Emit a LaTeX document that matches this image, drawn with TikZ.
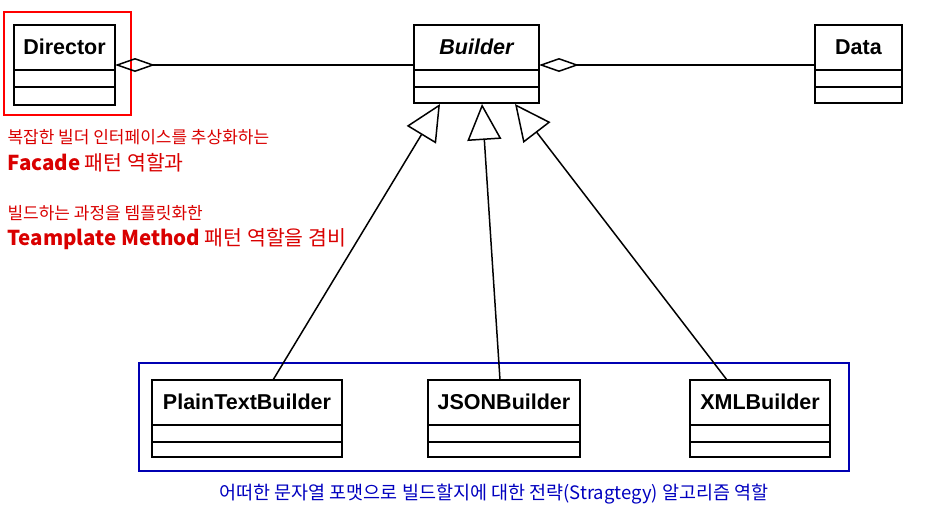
\documentclass[tikz,border=0pt]{standalone}
\usepackage{fontspec}
\setmainfont{Liberation Sans}
\newfontfamily\kr{Noto Sans CJK KR}
\usetikzlibrary{arrows.meta}
\begin{document}
\begin{tikzpicture}[x=1pt,y=-1pt,
  cls/.style={draw,line width=1.5pt,fill=white},
  nm/.style={font=\bfseries\fontsize{21.5}{24}\selectfont},
  agg/.style={line width=1.5pt,-{Diamond[open,length=40pt,width=14pt]}},
  inh/.style={line width=1.5pt,-{Triangle[open,length=36pt,width=34pt]}},
  rt/.style={anchor=west,text=red!85!black,font=\kr\fontsize{17}{19}\selectfont},
  rb/.style={anchor=west,text=red!85!black,font=\kr\fontsize{20.5}{23}\selectfont},
  sep/.style={line width=1.5pt}]
\useasboundingbox (0,0) rectangle (925,520);
\newcommand\umlbox[6]{% name x1 x2 y1 y2 label
  \draw[cls] (#2,#4) rectangle (#3,#5);
  \draw[sep] (#2,#4+45) -- (#3,#4+45);
  \draw[sep] (#2,#4+62) -- (#3,#4+62);
  \node[nm] (#1) at ({(#2+#3)/2},#4+22) {#6};
  \coordinate (#1-w) at (#2,#4+40);
  \coordinate (#1-e) at (#3,#4+40);
  \coordinate (#1-n) at ({(#2+#3)/2},#4);}
\draw[red,line width=1.2pt] (4,12) rectangle (131,115);
\draw[blue!70!black,line width=1.2pt] (139,363) rectangle (849,471);
\umlbox{dir}{14}{115}{25}{105}{Director}
\umlbox{bld}{414}{539}{25}{103}{\itshape Builder}
\umlbox{dat}{815}{902}{25}{103}{Data}
\umlbox{ptb}{152}{342}{380}{457}{PlainTextBuilder}
\umlbox{jsb}{428}{580}{380}{457}{JSONBuilder}
\umlbox{xmb}{690}{830}{380}{457}{XMLBuilder}
\coordinate (t1) at (440,104);
\coordinate (t2) at (482,104);
\coordinate (t3) at (515,104);
\draw[agg] (bld-w) -- (dir-e);
\draw[agg] (dat-w) -- (bld-e);
\draw[inh] (273,380) coordinate (p1) -- (t1);
\draw[inh] (500,380) coordinate (p2) -- (t2);
\draw[inh] (727,380) coordinate (p3) -- (t3);
\node[rt] (r1) at (4,137) {복잡한 빌더 인터페이스를 추상화하는};
\node[rb] (r2) at (4,163) {\textbf{Facade} 패턴 역할과};
\node[rt] (r3) at (4,213) {빌드하는 과정을 템플릿화한};
\node[rb] (r4) at (4,239) {\textbf{Teamplate Method} 패턴 역할을 겸비};
\node[text=blue!75!black,font=\kr\fontsize{18.5}{21}\selectfont] (bt) at (494,494) {어떠한 문자열 포맷으로 빌드할지에 대한 전략(Stragtegy) 알고리즘 역할};
\end{tikzpicture}
\end{document}
